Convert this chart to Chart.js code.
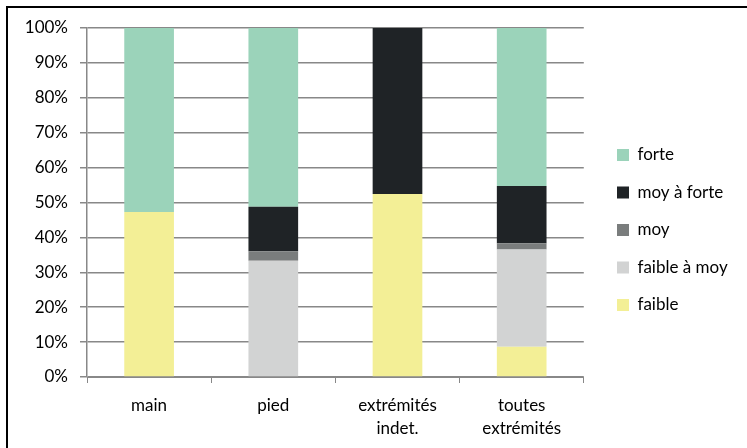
<!DOCTYPE html>
<html>
<head>
<meta charset="utf-8">
<script src="https://cdn.jsdelivr.net/npm/chart.js@4/dist/chart.umd.min.js"></script>
<style>
  html, body { margin: 0; padding: 0; background: #fff; overflow: hidden; }
  #wrap { position: absolute; left: 0; top: 0; width: 747px; height: 448px; }
  #frame { position: absolute; left: 6px; top: 6px; width: 800px; height: 500px; border: 2px solid #000; box-sizing: border-box; pointer-events: none; }
</style>
</head>
<body>
<div id="wrap"><canvas id="c" width="747" height="448"></canvas></div>
<div id="frame"></div>
<script>
const categories = [["main"], ["pied"], ["extrémités", "indet."], ["toutes", "extrémités"]];
const seriesNames = ["faible", "faible à moy", "moy", "moy à forte", "forte"];
const faible      = [47.3, 0,    52.4, 8.7];
const faibleAMoy  = [0,    33.3, 0,    27.8];
const moy         = [0,    2.7,  0,    1.8];
const moyAForte   = [0,    12.8, 47.6, 16.4];
const forte       = [52.7, 51.2, 0,    45.3];
const yTicks = [0, 10, 20, 30, 40, 50, 60, 70, 80, 90, 100];
const colors = ["#F3EF96", "#D2D3D3", "#7A7D7D", "#1F2326", "#9BD3BA"];

const seriesValues = [faible, faibleAMoy, moy, moyAForte, forte];
const FONT = "Lato";
const LEG_PAD = 20.5;

const legendShift = {
  id: 'legendShift',
  afterLayout(chart) {
    const lg = chart.legend;
    if (!lg) return;
    const h = lg.bottom - lg.top;
    const w = lg.right - lg.left;
    const newTop = 230 - h / 2;
    lg.top = newTop; lg.bottom = newTop + h;
    lg.left = 617 - LEG_PAD; lg.right = lg.left + w;
  }
};

new Chart(document.getElementById('c'), {
  type: 'bar',
  data: {
    labels: categories,
    datasets: seriesNames.map((n, i) => ({
      label: n,
      data: seriesValues[i],
      backgroundColor: colors[i],
      borderWidth: 0,
      barPercentage: 0.4,
      categoryPercentage: 1.0
    }))
  },
  options: {
    responsive: false,
    animation: false,
    layout: { padding: { top: 28, right: 22, bottom: 11, left: 0 } },
    plugins: {
      tooltip: { enabled: false },
      legend: {
        position: 'right',
        reverse: true,
        align: 'center',
        labels: {
          boxWidth: 12, boxHeight: 12,
          padding: LEG_PAD,
          color: '#000',
          font: { family: FONT, size: 17 }
        }
      }
    },
    scales: {
      x: {
        stacked: true,
        grid: { display: true, drawOnChartArea: false, drawTicks: true, tickLength: 6, color: '#888', offset: true },
        border: { color: '#888', width: 1 },
        ticks: { color: '#000', font: { family: FONT, size: 17, lineHeight: 1.35 }, padding: 11, maxRotation: 0 },
        afterFit(s) { s.height = 60; }
      },
      y: {
        stacked: true,
        min: 0, max: 100,
        afterBuildTicks(s) { s.ticks = yTicks.map(v => ({ value: v })); },
        grid: { color: '#888', lineWidth: 1.5, tickLength: 7 },
        border: { color: '#888', width: 1.5 },
        ticks: { color: '#000', font: { family: FONT, size: 17 }, padding: 12, callback: v => v + '%' },
        afterFit(s) { s.width = 87; }
      }
    }
  },
  plugins: [legendShift]
});
</script>
</body>
</html>
